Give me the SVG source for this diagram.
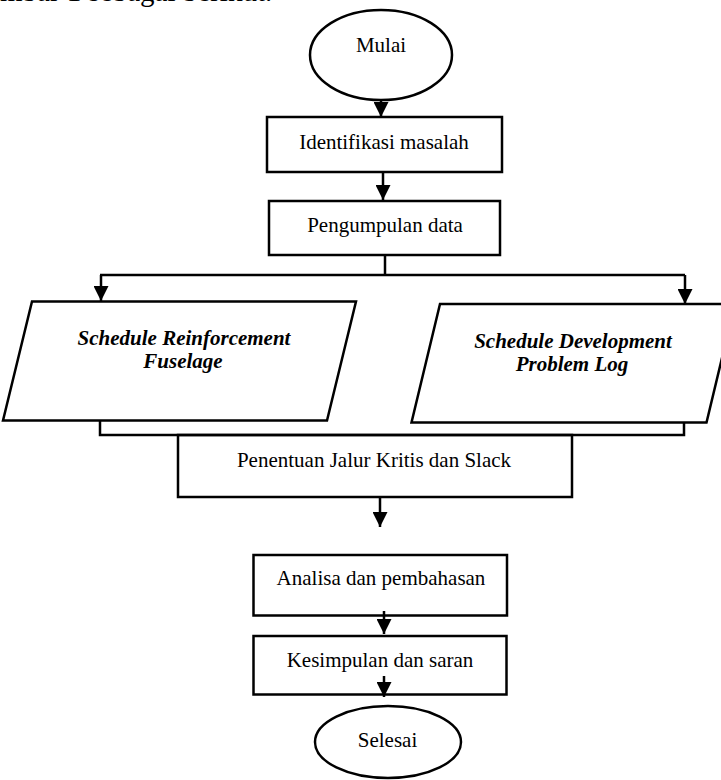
<svg xmlns="http://www.w3.org/2000/svg" width="721" height="780" viewBox="0 0 721 780">
<defs>
<marker id="ah" viewBox="0 0 15 15" refX="15" refY="7.5" markerWidth="15" markerHeight="15" markerUnits="userSpaceOnUse" orient="auto">
<path d="M0,0 L15,7.5 L0,15 z" fill="#000"/>
</marker>
<style>
.sh{fill:#fff;stroke:#000;stroke-width:2.5}
.ln{fill:none;stroke:#000;stroke-width:2.5}
.ar{fill:none;stroke:#000;stroke-width:2.5;marker-end:url(#ah)}
.t{font-family:"Liberation Serif","Times New Roman",serif;font-size:21px;fill:#000;text-anchor:middle}
.bi{font-weight:bold;font-style:italic}
.body{font-family:"Liberation Serif","Times New Roman",serif;font-size:29px;fill:#000}
</style>
</defs>
<rect width="721" height="780" fill="#fff"/>
<text class="body" x="0" y="1">mbar 1 sebagai berikut.</text>

<g id="mulai">
<ellipse class="sh" cx="381" cy="55" rx="71" ry="45"/>
<text class="t" x="381" y="52">Mulai</text>
</g>
<g id="identifikasi">
<rect class="sh" x="267" y="117" width="235" height="55"/>
<text class="t" x="384" y="149">Identifikasi masalah</text>
</g>
<g id="pengumpulan">
<rect class="sh" x="269" y="201" width="231" height="54"/>
<text class="t" x="385" y="232">Pengumpulan data</text>
</g>
<g id="schedule-reinforcement">
<polygon class="sh" points="32,301.5 356,301.5 327,420.5 3,420.5"/>
<text class="t bi" x="184" y="345">Schedule Reinforcement</text>
<text class="t bi" x="183" y="368">Fuselage</text>
</g>
<g id="schedule-development">
<polygon class="sh" points="440,304 735,304 706.5,422.5 411.5,422.5"/>
<text class="t bi" x="573" y="348">Schedule Development</text>
<text class="t bi" x="572" y="371">Problem Log</text>
</g>
<g id="penentuan">
<rect class="sh" x="178" y="435" width="394" height="62"/>
<text class="t" x="374" y="467">Penentuan Jalur Kritis dan Slack</text>
</g>
<g id="analisa">
<rect class="sh" x="253.5" y="555" width="253.5" height="60.5"/>
<text class="t" x="381" y="585">Analisa dan pembahasan</text>
</g>
<g id="kesimpulan">
<rect class="sh" x="253.5" y="636" width="253" height="58.5"/>
<text class="t" x="380" y="667">Kesimpulan dan saran</text>
</g>
<g id="selesai">
<ellipse class="sh" cx="388" cy="742" rx="73" ry="36"/>
<text class="t" x="387.5" y="747">Selesai</text>
</g>

<g id="connectors">
<line class="ar" x1="381" y1="100" x2="381" y2="117"/>
<line class="ar" x1="383" y1="172" x2="383" y2="200"/>
<polyline class="ln" points="385,255 385,275"/>
<polyline class="ln" points="100,275 685,275"/>
<line class="ar" x1="101" y1="275" x2="101" y2="301"/>
<line class="ar" x1="685" y1="275" x2="685" y2="304"/>
<polyline class="ln" points="100,421 100,435 684,435 684,423"/>
<line class="ar" x1="380" y1="497" x2="380" y2="527"/>
<line class="ar" x1="384" y1="611" x2="384" y2="634"/>
<line class="ar" x1="384" y1="676" x2="384" y2="697"/>
</g>
</svg>
